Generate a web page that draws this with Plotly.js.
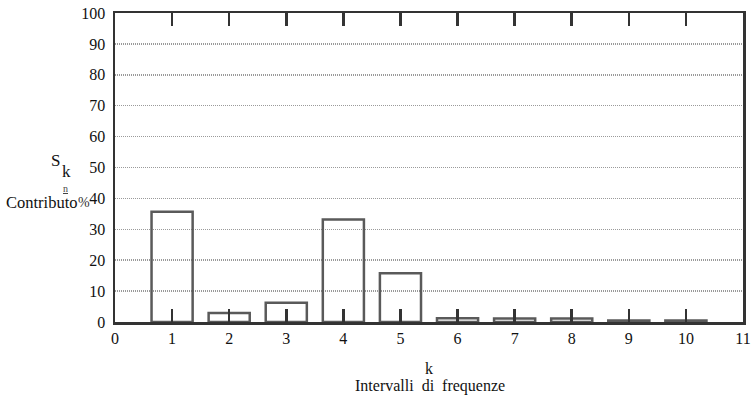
<!DOCTYPE html>
<html><head><meta charset="utf-8">
<script src="https://cdn.plot.ly/plotly-3.0.1.min.js"></script>
<style>html,body{margin:0;padding:0;background:#fff}</style>
</head><body>
<div id="chart" style="width:754px;height:399px"></div>
<script>
const intervals = [1, 2, 3, 4, 5, 6, 7, 8, 9, 10];
const contributions = [35.7, 2.9, 6.2, 33.2, 15.8, 1.2, 1.1, 1.1, 0.5, 0.5];
const xTicks = [0, 1, 2, 3, 4, 5, 6, 7, 8, 9, 10, 11];
const yTicks = [0, 10, 20, 30, 40, 50, 60, 70, 80, 90, 100];

const FAM = 'Liberation Serif';
const INK = '#111';
const font = {family: FAM, color: INK};

const trace = {
  type: 'bar', x: intervals, y: contributions, width: 0.72,
  marker: {color: 'rgba(255,255,255,0)', line: {color: '#5a5a5a', width: 2.5}},
  hoverinfo: 'skip'
};

const layout = {
  width: 754, height: 399,
  margin: {l: 115, r: 11, t: 13, b: 77},
  paper_bgcolor: '#fff', plot_bgcolor: '#fff',
  showlegend: false,
  font: font,
  xaxis: {
    range: [0, 11], tickvals: xTicks, ticktext: xTicks.map(String),
    ticks: 'inside', ticklen: 13, tickwidth: 2.5, tickcolor: '#333',
    showline: true, linecolor: '#333', linewidth: 2.5, mirror: 'ticks',
    showgrid: false, zeroline: false,
    tickfont: {family: FAM, size: 16, color: INK}
  },
  yaxis: {
    range: [0, 100], tickvals: yTicks, ticktext: yTicks.map(String),
    ticks: '', showline: true, linecolor: '#333', linewidth: 2.5, mirror: true,
    showgrid: true, gridcolor: '#9a9a9a', gridwidth: 1.5, griddash: '1px,1px',
    zeroline: false, ticklabelstandoff: 4,
    tickfont: {family: FAM, size: 16, color: INK}
  },
  annotations: [
    {xref: 'paper', yref: 'paper', x: 0.5, y: -0.149, yanchor: 'middle', xanchor: 'center', showarrow: false,
     text: 'k', font: {family: FAM, size: 16, color: INK}},
    {xref: 'paper', yref: 'paper', x: 0.502, y: -0.206, yanchor: 'middle', xanchor: 'center', showarrow: false,
     text: 'Intervalli&nbsp; di&nbsp; frequenze', font: {family: FAM, size: 16, color: INK}},
    {xref: 'paper', yref: 'paper', x: -0.094, y: 0.522, xanchor: 'center', yanchor: 'middle', showarrow: false,
     text: 'S', font: {family: FAM, size: 17, color: INK}},
    {xref: 'paper', yref: 'paper', x: -0.077, y: 0.487, xanchor: 'center', yanchor: 'middle', showarrow: false,
     text: 'k', font: {family: FAM, size: 17, color: INK}},
    {xref: 'paper', yref: 'paper', x: -0.079, y: 0.432, xanchor: 'center', yanchor: 'middle', showarrow: false,
     text: '<u>n</u>', font: {family: FAM, size: 10, color: '#444'}},
    {xref: 'paper', yref: 'paper', x: -0.177, y: 0.388, xanchor: 'left', yanchor: 'middle', showarrow: false,
     text: 'Contributo', font: {family: FAM, size: 16.5, color: INK}},
    {xref: 'paper', yref: 'paper', x: -0.05, y: 0.388, xanchor: 'center', yanchor: 'middle', showarrow: false,
     text: '%', font: {family: FAM, size: 14, color: '#333'}}
  ]
};

Plotly.newPlot('chart', [trace], layout, {displayModeBar: false, staticPlot: true});
</script>
</body></html>
